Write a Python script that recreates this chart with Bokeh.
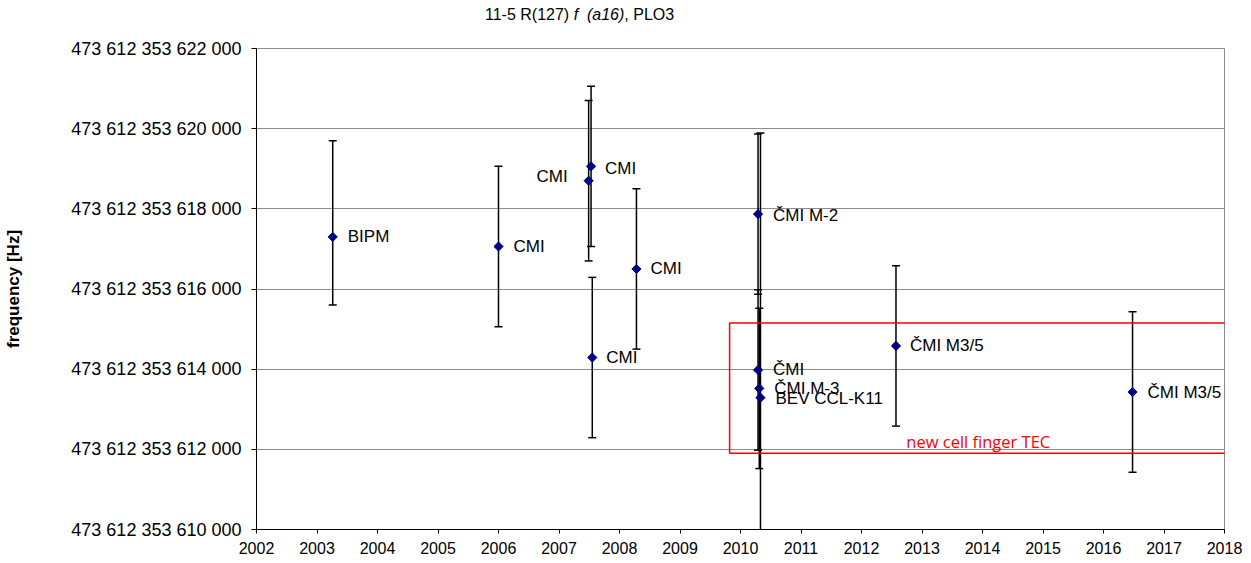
import math
from bokeh.plotting import figure
from bokeh.layouts import column
from bokeh.models import ColumnDataSource, FixedTicker, BoxAnnotation, Label, Range1d, Div
from bokeh.core.properties import value
from bokeh.embed import file_html
from bokeh.resources import INLINE

# ---- data (frequency offsets in Hz above 473 612 353 600 000 Hz) ----
BASE_HZ = 473612353600000
years = [2003.26, 2006.00, 2007.53, 2007.49, 2007.55, 2008.28,
         2010.29, 2010.29, 2010.31, 2010.33, 2012.57, 2016.48]
freq_offset = [17300, 17060, 19060, 18700, 14290, 16500,
               17870, 13980, 13520, 13290, 14580, 13430]
err_up = [2400, 2000, 2000, 2000, 2000, 2000,
          2000, 2000, 2000, 6600, 2000, 2000]
err_down = [1700, 2000, 2000, 2000, 2000, 2000,
            2000, 2000, 2000, 6600, 2000, 2000]
names = ["BIPM", "CMI", "CMI", "CMI", "CMI", "CMI",
         "ČMI M-2", "ČMI", "ČMI M-3", "BEV CCL-K11", "ČMI M3/5", "ČMI M3/5"]

x_ticks = list(range(2002, 2019))
y_ticks = [10000, 12000, 14000, 16000, 18000, 20000, 22000]
y_tick_labels = ["473 612 353 610 000", "473 612 353 612 000", "473 612 353 614 000",
                 "473 612 353 616 000", "473 612 353 618 000", "473 612 353 620 000",
                 "473 612 353 622 000"]

title_html = "11-5 R(127) <i>f</i>&nbsp; <i>(a16)</i>, PLO3"

# annotation box "new cell finger TEC"
box_years = [2009.82, 2018.02]
box_freq = [11900, 15150]
box_text = "new cell finger TEC"
box_text_pos = [2012.74, 12200]

# label style (pixel offsets / alignment)
label_dx = [15, 15, 14, -21, 14, 14, 15, 15, 15, 15, 14, 15]
label_dy = [0, 0, 2, -4, 0, 0, 1, 0, 0, 1, 0, 0]
label_align = ["left"] * 12
label_align[3] = "right"

FONT = "Liberation Sans"

top = [f + u for f, u in zip(freq_offset, err_up)]
bot = [f - d for f, d in zip(freq_offset, err_down)]
src = ColumnDataSource(dict(x=years, y=freq_offset, top=top, bot=bot, name=names,
                            dx=label_dx, dy=label_dy, align=label_align))

p = figure(width=1245, height=538, output_backend="svg", toolbar_location=None,
           title=None, x_range=Range1d(2002, 2018), y_range=Range1d(10000, 22000),
           min_border_left=256, min_border_right=21, min_border_top=24, min_border_bottom=33)
p.background_fill_color = "white"
p.border_fill_color = "white"
p.outline_line_color = "#8c8c8c"
p.outline_line_width = 1

p.xgrid.visible = False
p.ygrid.grid_line_color = "#8c8c8c"
p.ygrid.grid_line_width = 1

p.xaxis.ticker = FixedTicker(ticks=x_ticks)
p.yaxis.ticker = FixedTicker(ticks=y_ticks)
p.yaxis.major_label_overrides = {t: l for t, l in zip(y_ticks, y_tick_labels)}
for ax in (p.xaxis, p.yaxis):
    ax.axis_line_color = "black"
    ax.axis_line_width = 1
    ax.major_tick_line_color = "black"
    ax.major_tick_in = 0
    ax.minor_tick_line_color = None
    ax.major_label_text_color = "black"
    ax.major_label_text_font = FONT
p.xaxis.major_tick_out = 4
p.xaxis.major_label_standoff = 8
p.xaxis.major_label_text_font_size = "16px"
p.yaxis.major_tick_out = 5
p.yaxis.major_label_standoff = 10
p.yaxis.major_label_text_font_size = "18px"
p.yaxis.axis_label = "frequency [Hz]"
p.yaxis.axis_label_text_font = FONT
p.yaxis.axis_label_text_font_size = "17px"
p.yaxis.axis_label_text_font_style = "bold"
p.yaxis.axis_label_text_color = "black"
p.yaxis.axis_label_standoff = 45

# error bars
p.segment(x0="x", y0="bot", x1="x", y1="top", source=src, line_color="black", line_width=1.5)
p.scatter(x="x", y="top", source=src, marker="dash", size=8, line_color="black", line_width=1.5)
p.scatter(x="x", y="bot", source=src, marker="dash", size=8, line_color="black", line_width=1.5)

# points
p.scatter(x="x", y="y", source=src, marker="square", angle=math.pi / 4, size=6.5,
          fill_color="#000080", line_color="#000080")

# point labels
p.text(x="x", y="y", text="name", source=src, x_offset="dx", y_offset="dy",
       text_align="align", text_baseline="middle", text_font=value(FONT),
       text_font_size="17px", text_color="black")

# red box + text
p.add_layout(BoxAnnotation(left=box_years[0], right=box_years[1], bottom=box_freq[0], top=box_freq[1],
                           fill_alpha=0, line_color="#ff0000", line_alpha=1.0, line_width=1.5))
p.add_layout(Label(x=box_text_pos[0], y=box_text_pos[1], text=box_text, text_color="#ff0000",
                   text_font="Open Sans", text_font_size="16.5px", text_baseline="middle"))

title = Div(text=('<div style="position:relative;left:485px;top:6px;white-space:nowrap;'
                  'font-family:\'Liberation Sans\';font-size:16px;line-height:18px;color:black;">'
                  + title_html + '</div>'),
            width=1245, height=24, margin=(0, 0, 0, 0))

layout = column(title, p, spacing=0)
open("out.html", "w").write(file_html(layout, INLINE))
